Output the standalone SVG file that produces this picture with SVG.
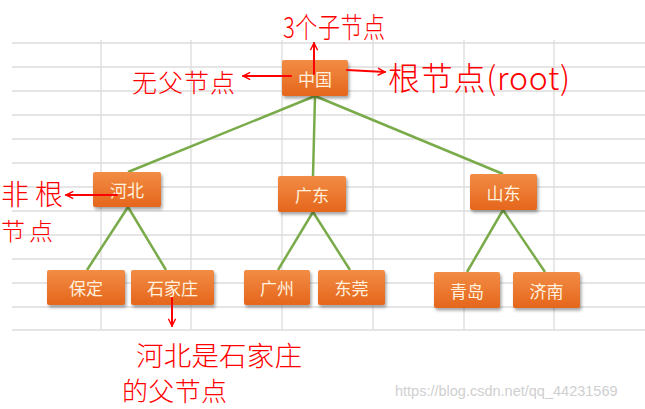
<svg xmlns="http://www.w3.org/2000/svg" width="645" height="409" viewBox="0 0 645 409">
<defs>
<linearGradient id="og" x1="0" y1="0" x2="0" y2="1">
<stop offset="0" stop-color="#F28C45"/>
<stop offset="1" stop-color="#E5661C"/>
</linearGradient>
<filter id="sh" x="-20%" y="-20%" width="140%" height="150%">
<feDropShadow dx="1.5" dy="2.5" stdDeviation="1.5" flood-color="#000" flood-opacity="0.35"/>
</filter>
<marker id="ah" viewBox="0 0 10 10" refX="9" refY="5" markerWidth="9" markerHeight="9" markerUnits="userSpaceOnUse" orient="auto">
<path d="M1,1 L9,5 L1,9" fill="none" stroke="#FF0000" stroke-width="1.6"/>
</marker>
</defs>
<style>
.grid line{stroke:#DCDCDC;stroke-width:1.3}
.box rect{fill:url(#og);filter:url(#sh)}
.box text{fill:#FFF1DE;font-family:"Noto Sans CJK SC",sans-serif;font-size:17px;text-anchor:middle;dominant-baseline:central}
.conn line{stroke:#7AAB4A;stroke-width:2.5}
.red{fill:#FF0000;font-family:"Noto Sans CJK SC",sans-serif;font-weight:300}
.rl{stroke:#FF0000;stroke-width:2;fill:none;stroke-linecap:round}
.wm{fill:#CFCFCF;font-family:"Liberation Sans",Arial,sans-serif;font-size:14.5px}
</style>
<rect width="645" height="409" fill="#FFFFFF"/>
<g class="grid">
<line x1="12" y1="43" x2="645" y2="43"/>
<line x1="12" y1="67" x2="645" y2="67"/>
<line x1="12" y1="91" x2="645" y2="91"/>
<line x1="12" y1="115" x2="645" y2="115"/>
<line x1="12" y1="139" x2="645" y2="139"/>
<line x1="12" y1="163" x2="645" y2="163"/>
<line x1="12" y1="187" x2="645" y2="187"/>
<line x1="12" y1="211" x2="645" y2="211"/>
<line x1="12" y1="235" x2="645" y2="235"/>
<line x1="12" y1="259" x2="645" y2="259"/>
<line x1="12" y1="283" x2="645" y2="283"/>
<line x1="12" y1="307" x2="645" y2="307"/>
<line x1="12" y1="330" x2="645" y2="330"/>
<line x1="101" y1="40" x2="101" y2="330"/>
<line x1="191" y1="40" x2="191" y2="330"/>
<line x1="282" y1="40" x2="282" y2="330"/>
<line x1="373" y1="40" x2="373" y2="330"/>
<line x1="464" y1="40" x2="464" y2="330"/>
<line x1="554" y1="40" x2="554" y2="330"/>
</g>
<g id="connectors" class="conn">
<line x1="315" y1="96" x2="128" y2="172"/>
<line x1="315" y1="96" x2="313" y2="176"/>
<line x1="315" y1="96" x2="503" y2="174"/>
<line x1="128" y1="207" x2="87" y2="270"/>
<line x1="128" y1="207" x2="166" y2="270"/>
<line x1="313" y1="212" x2="278" y2="270"/>
<line x1="313" y1="212" x2="350" y2="270"/>
<line x1="503" y1="210" x2="467" y2="272"/>
<line x1="503" y1="210" x2="545" y2="272"/>
</g>
<g id="n-zhongguo" class="box"><rect x="282" y="60" width="66" height="36" rx="2"/><text x="315" y="78">中国</text></g>
<g id="n-hebei" class="box"><rect x="93" y="172" width="68" height="35" rx="2"/><text x="127" y="189.5">河北</text></g>
<g id="n-guangdong" class="box"><rect x="278" y="176" width="68" height="36" rx="2"/><text x="312" y="194">广东</text></g>
<g id="n-shandong" class="box"><rect x="470" y="174" width="67" height="36" rx="2"/><text x="503.5" y="192">山东</text></g>
<g id="n-baoding" class="box"><rect x="47" y="270" width="78" height="35" rx="2"/><text x="86" y="287.5">保定</text></g>
<g id="n-shijiazhuang" class="box"><rect x="131" y="270" width="83" height="35" rx="2"/><text x="172.5" y="287.5">石家庄</text></g>
<g id="n-guangzhou" class="box"><rect x="244" y="270" width="66" height="35" rx="2"/><text x="277" y="287.5">广州</text></g>
<g id="n-dongguan" class="box"><rect x="318" y="270" width="67" height="35" rx="2"/><text x="351.5" y="287.5">东莞</text></g>
<g id="n-qingdao" class="box"><rect x="434" y="272" width="66" height="36" rx="2"/><text x="467" y="290">青岛</text></g>
<g id="n-jinan" class="box"><rect x="513" y="272" width="67" height="36" rx="2"/><text x="546.5" y="290">济南</text></g>
<g id="annotations">
<text class="red" x="283" y="38" font-size="22" transform="translate(0,-11.4) scale(1,1.3)" textLength="102">3个子节点</text>
<path class="rl" d="M314,74 L314,43" marker-end="url(#ah)"/>
<text class="red" x="132" y="92" font-size="25" textLength="103">无父节点</text>
<path class="rl" d="M291,76 L243,76" marker-end="url(#ah)"/>
<text class="red" x="388" y="90" font-size="32" textLength="182">根节点(root)</text>
<path class="rl" d="M347,70 L385,72" marker-end="url(#ah)"/>
<text class="red" x="1" y="205" font-size="28" textLength="62">非根</text>
<text class="red" x="1" y="240" font-size="24" textLength="52">节点</text>
<path class="rl" d="M117,195 L66,195" marker-end="url(#ah)"/>
<path class="rl" d="M172,298 L172,326" marker-end="url(#ah)"/>
<text class="red" x="136" y="366" font-size="27.5" textLength="166">河北是石家庄</text>
<text class="red" x="122" y="401" font-size="26" textLength="105">的父节点</text>
</g>
<text class="wm" x="395" y="396">https://blog.csdn.net/qq_44231569</text>
</svg>
